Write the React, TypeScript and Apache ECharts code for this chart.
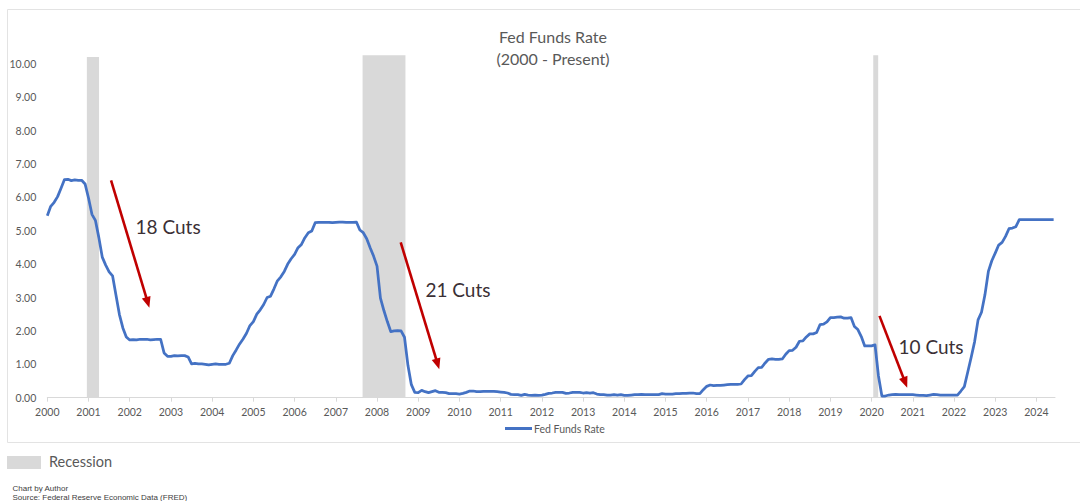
import React, { useEffect, useRef } from 'react';
import * as echarts from 'echarts';

// ---------- data ----------
const startYear = 2000;
const yearTicks = [
  2000, 2001, 2002, 2003, 2004, 2005, 2006, 2007, 2008, 2009, 2010, 2011, 2012,
  2013, 2014, 2015, 2016, 2017, 2018, 2019, 2020, 2021, 2022, 2023, 2024,
];
const rateTicks = [0, 1, 2, 3, 4, 5, 6, 7, 8, 9, 10];

const rates2000 = [5.45, 5.73, 5.85, 6.02, 6.27, 6.53, 6.54, 6.5, 6.52, 6.51, 6.51, 6.4];
const rates2001 = [5.98, 5.49, 5.31, 4.8, 4.21, 3.97, 3.77, 3.65, 3.07, 2.49, 2.09, 1.82];
const rates2002 = [1.73, 1.74, 1.73, 1.75, 1.75, 1.75, 1.73, 1.74, 1.75, 1.75, 1.34, 1.24];
const rates2003 = [1.24, 1.26, 1.25, 1.26, 1.26, 1.22, 1.01, 1.03, 1.01, 1.01, 1.0, 0.98];
const rates2004 = [1.0, 1.01, 1.0, 1.0, 1.0, 1.03, 1.26, 1.43, 1.61, 1.76, 1.93, 2.16];
const rates2005 = [2.28, 2.5, 2.63, 2.79, 3.0, 3.04, 3.26, 3.5, 3.62, 3.78, 4.0, 4.16];
const rates2006 = [4.29, 4.49, 4.59, 4.79, 4.94, 4.99, 5.24, 5.25, 5.25, 5.25, 5.25, 5.24];
const rates2007 = [5.25, 5.26, 5.26, 5.25, 5.25, 5.25, 5.26, 5.02, 4.94, 4.76, 4.49, 4.24];
const rates2008 = [3.94, 2.98, 2.61, 2.28, 1.98, 2.0, 2.01, 2.0, 1.81, 0.97, 0.39, 0.16];
const rates2009 = [0.15, 0.22, 0.18, 0.15, 0.18, 0.21, 0.16, 0.16, 0.15, 0.12, 0.12, 0.12];
const rates2010 = [0.11, 0.13, 0.16, 0.2, 0.2, 0.18, 0.18, 0.19, 0.19, 0.19, 0.19, 0.18];
const rates2011 = [0.17, 0.16, 0.14, 0.1, 0.09, 0.09, 0.07, 0.1, 0.08, 0.07, 0.08, 0.07];
const rates2012 = [0.08, 0.1, 0.13, 0.14, 0.16, 0.16, 0.16, 0.13, 0.14, 0.16, 0.16, 0.16];
const rates2013 = [0.14, 0.15, 0.14, 0.15, 0.11, 0.09, 0.09, 0.08, 0.08, 0.09, 0.08, 0.09];
const rates2014 = [0.07, 0.07, 0.08, 0.09, 0.09, 0.1, 0.09, 0.09, 0.09, 0.09, 0.09, 0.12];
const rates2015 = [0.11, 0.11, 0.11, 0.12, 0.12, 0.13, 0.13, 0.14, 0.14, 0.12, 0.12, 0.24];
const rates2016 = [0.34, 0.38, 0.36, 0.37, 0.37, 0.38, 0.39, 0.4, 0.4, 0.4, 0.41, 0.54];
const rates2017 = [0.65, 0.66, 0.79, 0.9, 0.91, 1.04, 1.15, 1.16, 1.15, 1.15, 1.16, 1.3];
const rates2018 = [1.41, 1.42, 1.51, 1.69, 1.7, 1.82, 1.91, 1.91, 1.95, 2.19, 2.2, 2.27];
const rates2019 = [2.4, 2.4, 2.41, 2.42, 2.38, 2.38, 2.4, 2.13, 2.04, 1.83, 1.55, 1.55];
const rates2020 = [1.55, 1.58, 0.65, 0.05, 0.05, 0.08, 0.09, 0.1, 0.09, 0.09, 0.09, 0.09];
const rates2021 = [0.09, 0.08, 0.07, 0.07, 0.06, 0.08, 0.1, 0.09, 0.08, 0.08, 0.08, 0.08];
const rates2022 = [0.08, 0.08, 0.2, 0.33, 0.77, 1.21, 1.68, 2.33, 2.56, 3.08, 3.78, 4.1];
const rates2023 = [4.33, 4.57, 4.65, 4.83, 5.06, 5.08, 5.12, 5.33, 5.33, 5.33, 5.33, 5.33];
const rates2024 = [5.33, 5.33, 5.33, 5.33, 5.33, 5.33];

const monthlyRates = [
  ...rates2000, ...rates2001, ...rates2002, ...rates2003, ...rates2004, ...rates2005,
  ...rates2006, ...rates2007, ...rates2008, ...rates2009, ...rates2010, ...rates2011,
  ...rates2012, ...rates2013, ...rates2014, ...rates2015, ...rates2016, ...rates2017,
  ...rates2018, ...rates2019, ...rates2020, ...rates2021, ...rates2022, ...rates2023,
  ...rates2024,
];

const recessionStarts = [2000.96, 2007.65, 2020.04];
const recessionEnds = [2001.255, 2008.69, 2020.16];
const recessionTops = [10.2, 10.25, 10.25];

const cutLabels = ['18 Cuts', '21 Cuts', '10 Cuts'];
const cutArrowFrom = [
  [2001.547, 6.51],
  [2008.575, 4.65],
  [2020.191, 2.45],
];
const cutArrowTip = [
  [2002.476, 2.69],
  [2009.51, 0.85],
  [2020.864, 0.3],
];
const cutLabelAt = [
  [2002.93, 5.12],
  [2009.963, 3.25],
  [2021.442, 1.53],
];

// ---------- styles ----------
const LINE_BLUE = '#4472c4';
const REC_GREY = '#d9d9d9';
const TEXT_GREY = '#595959';
const ARROW_RED = '#c00000';
const FONT = 'Lato, "Open Sans", sans-serif';
const HEAD_LEN = 11;
const HEAD_WIDTH = 9;

export default function App() {
  const ref = useRef<HTMLDivElement>(null);

  useEffect(() => {
    if (!ref.current) return;
    const chart = echarts.init(ref.current, undefined, { renderer: 'svg' });

    const lineData = monthlyRates.map((r, i) => [startYear + i / 12, r]);

    const option: any = {
      animation: false,
      backgroundColor: '#ffffff',
      title: {
        text: 'Fed Funds Rate\n(2000 - Present)',
        left: 548,
        textAlign: 'center',
        top: 20,
        textStyle: {
          fontFamily: FONT,
          fontSize: 16,
          fontWeight: 'normal',
          color: TEXT_GREY,
          lineHeight: 22,
        },
      },
      legend: {
        data: ['Fed Funds Rate'],
        left: 500,
        top: 418,
        icon: 'rect',
        itemWidth: 27,
        itemHeight: 3,
        textStyle: { fontFamily: FONT, fontSize: 10.5, color: TEXT_GREY, padding: [0, 0, 0, -3] },
      },
      grid: {
        left: 47.3,
        right: 25,
        top: 55.35,
        bottom: 103.3,
        containLabel: false,
      },
      xAxis: {
        type: 'value',
        min: 2000,
        max: 2024.45,
        interval: 1,
        axisLine: { show: true, lineStyle: { color: REC_GREY, width: 1 } },
        axisTick: {
          show: true,
          length: 4,
          customValues: yearTicks,
          lineStyle: { color: REC_GREY },
        },
        axisLabel: {
          customValues: yearTicks,
          margin: 9,
          fontFamily: FONT,
          fontSize: 10.5,
          color: TEXT_GREY,
          formatter: (v: number) => (Number.isInteger(v) ? String(v) : ''),
        },
        splitLine: { show: false },
      },
      yAxis: {
        type: 'value',
        min: 0,
        max: 10.25,
        interval: 1,
        axisLine: { show: false },
        axisTick: { show: false },
        axisLabel: {
          customValues: rateTicks,
          margin: 11,
          fontFamily: FONT,
          fontSize: 10.5,
          color: TEXT_GREY,
          formatter: (v: number) => (Number.isInteger(v) ? v.toFixed(2) : ''),
        },
        splitLine: { show: false },
      },
      series: [
        {
          id: 'recession',
          name: 'Recession',
          type: 'line',
          data: [],
          z: 1,
          silent: true,
          markArea: {
            silent: true,
            itemStyle: { color: REC_GREY, opacity: 1 },
            label: { show: false },
            emphasis: { disabled: true },
            data: recessionStarts.map((s, i) => [
              { xAxis: s, yAxis: 0 },
              { xAxis: recessionEnds[i], yAxis: recessionTops[i] },
            ]),
          },
        },
        {
          id: 'rate',
          name: 'Fed Funds Rate',
          type: 'line',
          data: lineData,
          symbol: 'none',
          showSymbol: false,
          z: 3,
          lineStyle: { color: LINE_BLUE, width: 2.75, join: 'round' },
          itemStyle: { color: LINE_BLUE },
          emphasis: { disabled: true },
        },
        {
          id: 'annotations',
          name: 'Annotations',
          type: 'line',
          data: [],
          z: 5,
          silent: true,
          markPoint: {
            silent: true,
            symbol: 'rect',
            symbolSize: 1,
            itemStyle: { color: 'rgba(0,0,0,0)' },
            label: {
              show: true,
              position: 'inside',
              formatter: '{b}',
              fontFamily: FONT,
              fontSize: 19,
              color: '#3b3035',
            },
            emphasis: { disabled: true },
            data: cutLabelAt.map((c, i) => ({ name: cutLabels[i], coord: c })),
          },
        },
        {
          id: 'arrows',
          name: 'Arrows',
          type: 'line',
          data: [],
          z: 6,
          silent: true,
        },
      ],
      graphic: [
        {
          type: 'rect',
          silent: true,
          z: -10,
          shape: { x: 7.5, y: 9.5, width: 1080, height: 433 },
          style: { fill: 'none', stroke: '#e3e3e3', lineWidth: 1 },
        },
        {
          type: 'rect',
          silent: true,
          shape: { x: 7, y: 456, width: 34, height: 13 },
          style: { fill: REC_GREY },
        },
        {
          type: 'text',
          silent: true,
          x: 49,
          y: 461.5,
          style: {
            text: 'Recession',
            fontFamily: FONT,
            fontSize: 14.5,
            fill: TEXT_GREY,
            verticalAlign: 'middle',
          },
        },
        {
          type: 'text',
          silent: true,
          x: 12.5,
          y: 488.7,
          style: {
            text: 'Chart by Author',
            fontFamily: '"Liberation Sans", Arial, sans-serif',
            fontSize: 8,
            fill: '#404040',
            verticalAlign: 'middle',
          },
        },
        {
          type: 'text',
          silent: true,
          x: 12.5,
          y: 497,
          style: {
            text: 'Source: Federal Reserve Economic Data (FRED)',
            fontFamily: '"Liberation Sans", Arial, sans-serif',
            fontSize: 8,
            fill: '#404040',
            verticalAlign: 'middle',
          },
        },
      ],
    };

    chart.setOption(option);

    // Arrow shafts and heads, positioned in data space via the grid's own scales
    const shafts: any[] = [];
    const heads: any[] = [];
    cutArrowFrom.forEach((from, i) => {
      const p0 = chart.convertToPixel({ gridIndex: 0 }, from) as number[];
      const p1 = chart.convertToPixel({ gridIndex: 0 }, cutArrowTip[i]) as number[];
      const dx = p1[0] - p0[0];
      const dy = p1[1] - p0[1];
      const len = Math.hypot(dx, dy) || 1;
      const ux = dx / len;
      const uy = dy / len;
      const center = [p1[0] - (ux * HEAD_LEN) / 2, p1[1] - (uy * HEAD_LEN) / 2];
      const shaftEnd = [p1[0] - ux * (HEAD_LEN - 2), p1[1] - uy * (HEAD_LEN - 2)];
      shafts.push([
        { coord: from },
        { coord: chart.convertFromPixel({ gridIndex: 0 }, shaftEnd) },
      ]);
      heads.push({
        coord: chart.convertFromPixel({ gridIndex: 0 }, center),
        symbolRotate: (Math.atan2(-ux, -uy) * 180) / Math.PI,
      });
    });

    chart.setOption({
      series: [
        {
          id: 'arrows',
          markLine: {
            silent: true,
            symbol: ['none', 'none'],
            label: { show: false },
            emphasis: { disabled: true },
            lineStyle: { color: ARROW_RED, width: 2.6, type: 'solid', cap: 'butt' },
            data: shafts,
          },
          markPoint: {
            silent: true,
            symbol: 'triangle',
            symbolSize: [HEAD_WIDTH, HEAD_LEN],
            itemStyle: { color: ARROW_RED },
            label: { show: false },
            emphasis: { disabled: true },
            data: heads,
          },
        },
      ],
    });

    return () => {
      chart.dispose();
    };
  }, []);

  return (
    <div
      ref={ref}
      style={{
        position: 'fixed',
        left: 0,
        top: 0,
        width: 1080,
        height: 501,
        background: '#ffffff',
      }}
    />
  );
}
